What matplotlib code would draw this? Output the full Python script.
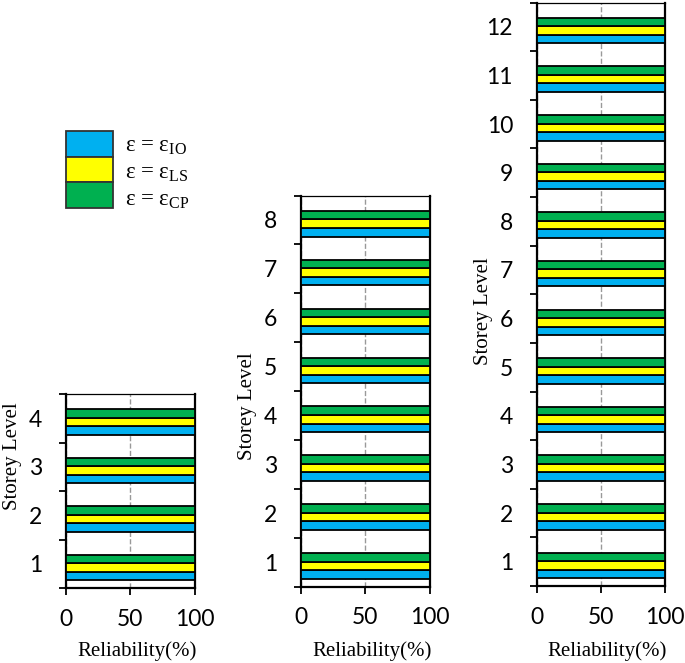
import matplotlib
matplotlib.use("Agg")
import matplotlib.pyplot as plt
from matplotlib.patches import Rectangle
from matplotlib.transforms import blended_transform_factory

plt.rcParams['font.family'] = 'Lato'
plt.rcParams['mathtext.fontset'] = 'custom'
plt.rcParams['mathtext.rm'] = 'Liberation Serif'

## Donnees : fiabilite (%) par etage pour les 3 batiments
storeys_4 = [1, 2, 3, 4]
io_4 = [100, 100, 100, 100]
ls_4 = [100, 100, 100, 100]
cp_4 = [100, 100, 100, 100]

storeys_8 = [1, 2, 3, 4, 5, 6, 7, 8]
io_8 = [100, 100, 100, 100, 100, 100, 100, 100]
ls_8 = [100, 100, 100, 100, 100, 100, 100, 100]
cp_8 = [100, 100, 100, 100, 100, 100, 100, 100]

storeys_12 = [1, 2, 3, 4, 5, 6, 7, 8, 9, 10, 11, 12]
io_12 = [100, 100, 100, 100, 100, 100, 100, 100, 100, 100, 100, 100]
ls_12 = [100, 100, 100, 100, 100, 100, 100, 100, 100, 100, 100, 100]
cp_12 = [100, 100, 100, 100, 100, 100, 100, 100, 100, 100, 100, 100]

x_ticks = [0, 50, 100]
labels = [r'ε = ε$_{\mathrm{IO}}$', r'ε = ε$_{\mathrm{LS}}$', r'ε = ε$_{\mathrm{CP}}$']
colors = ['#00B0F0', '#FFFF00', '#00B050']

W, H = 685, 663
fig = plt.figure(figsize=(W / 100, H / 100), dpi=100)

# position des axes en pixels : gauche, haut, bas + centre du label y
panels = [
    (storeys_4, io_4, ls_4, cp_4, 66, 394, 588, 456),
    (storeys_8, io_8, ls_8, cp_8, 301, 195.5, 586.5, 406),
    (storeys_12, io_12, ls_12, cp_12, 536.7, 2.5, 586, 311),
]
aw = 128.5
offsets = [-0.2525, -0.0775, 0.0975]
bh = 0.175

for storeys, io, ls, cp, xl, yt, yb, ylab in panels:
    ax = fig.add_axes([xl / W, 1 - yb / H, aw / W, (yb - yt) / H])
    n = len(storeys)
    for vals, off, c in zip([io, ls, cp], offsets, colors):
        ax.barh([s + off for s in storeys], vals, height=bh, color=c,
                edgecolor='black', linewidth=1.3, zorder=3)
    ax.set_xlim(0, 100)
    ax.set_ylim(0.5, n + 0.5)
    ax.set_xticks(x_ticks)
    ax.set_yticks(storeys)
    ax.set_yticks([s - 0.5 for s in storeys] + [n + 0.5], minor=True)
    ax.tick_params(axis='y', which='major', length=0, pad=17, labelsize=16.5)
    ax.tick_params(axis='y', which='minor', length=5, width=1.3, direction='out')
    ax.tick_params(axis='x', which='major', length=5, width=1.3, direction='out',
                   pad=10, labelsize=16.5)
    ax.xaxis.grid(True, linestyle='--', color='#999999', linewidth=1.0)
    ax.set_axisbelow(True)
    for sp in ['left', 'right', 'bottom']:
        ax.spines[sp].set_linewidth(1.6)
    ax.spines['top'].set_linewidth(0.9)
    ax.set_xlabel('Reliability(%)', family='Liberation Serif', fontsize=15)
    ax.xaxis.set_label_coords(0.55, 1 - 641 / H,
                              transform=blended_transform_factory(ax.transAxes, fig.transFigure))
    ax.set_ylabel('Storey Level', family='Liberation Serif', fontsize=15)
    ax.yaxis.set_label_coords(-44 / aw, (yb - ylab) / (yb - yt))

# legende
lax = fig.add_axes([66 / W, 1 - 208.3 / H, 46.7 / W, 77.6 / H])
lax.set_xlim(0, 1)
lax.set_ylim(0, 3)
lax.axis('off')
for i, c in enumerate(colors):
    lax.add_patch(Rectangle((0, 2 - i), 1, 1, facecolor=c, edgecolor='#333333',
                            linewidth=1.3, clip_on=False))
for lab, yc in zip(labels, [146.7, 173, 200]):
    fig.text(125 / W, 1 - yc / H, lab, family='Liberation Serif', fontsize=16.5,
             va='center', ha='left')

fig.savefig('out.png', dpi=100)
